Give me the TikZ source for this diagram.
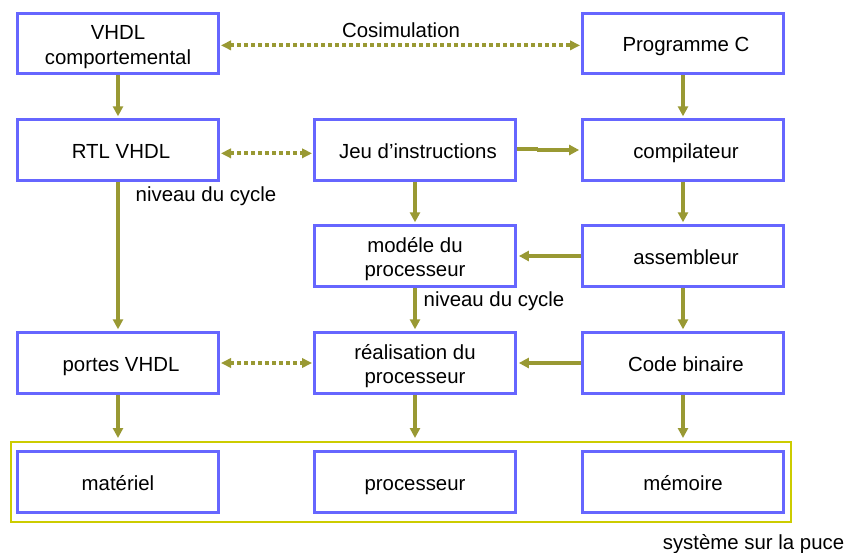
\documentclass[tikz,border=0pt]{standalone}
\usepackage{fontspec}
\setmainfont{Liberation Sans}
\usetikzlibrary{arrows.meta}
\definecolor{boxblue}{RGB}{102,102,255}
\definecolor{olive}{RGB}{153,153,51}
\definecolor{yel}{RGB}{204,204,0}
\newcommand{\nudgetext}{\hspace*{4.5pt}}
\tikzset{x=0.75pt,y=-0.75pt,
bx/.style={draw=boxblue,line width=2.25pt,fill=white,minimum width=150.75pt,minimum height=45.5pt,align=center,font=\fontsize{15.3}{18.4}\selectfont,inner sep=0pt,text height=13pt,text depth=0.5pt},
bxtwo/.style={bx,text height=31pt,text depth=0.2pt},
ar/.style={draw=olive,line width=2.9pt,-{Triangle[length=7.5pt,width=7.5pt]},shorten >=1.4pt},
plainline/.style={draw=olive,line width=2.9pt},
dar/.style={draw=olive,line width=2.9pt,dash pattern=on 3pt off 2.25pt,{Triangle[length=7.5pt,width=7pt]}-{Triangle[length=7.5pt,width=7pt]},shorten >=0.75pt,shorten <=0.75pt},
lb/.style={font=\fontsize{15.3}{18}\selectfont,inner sep=0pt,anchor=base}}
\begin{document}
\begin{tikzpicture}
\useasboundingbox (0,0) rectangle (846,553);
\fill[white] (0,0) rectangle (846,553);
\node[draw=yel,line width=1.6pt,minimum width=585pt,minimum height=60pt,inner sep=0pt] (chip) at (401,482) {};
\node[bxtwo] (a) at (118,43.5) {VHDL\\comportemental};
\node[bx] (c) at (683,43.5) {\nudgetext Programme C};
\node[bx] (d) at (118,150) {\nudgetext RTL VHDL};
\node[bx] (e) at (415,150) {\nudgetext Jeu d’instructions};
\node[bx] (f) at (683,150) {\nudgetext compilateur};
\node[bxtwo] (g) at (415,256) {modéle du\\processeur};
\node[bx] (h) at (683,256) {\nudgetext assembleur};
\node[bx] (i) at (118,363) {\nudgetext portes VHDL};
\node[bxtwo] (j) at (415,363) {réalisation du\\processeur};
\node[bx] (k) at (683,363) {\nudgetext Code binaire};
\node[bx] (l) at (118,482) {matériel};
\node[bx] (m) at (415,482) {processeur};
\node[bx] (n) at (683,482) {mémoire};
\coordinate (ej) at (537,150);
\draw[ar] (a) -- (d);
\draw[ar] (c) -- (f);
\draw[ar] (d) -- (i);
\draw[plainline] ([yshift=1pt]e.east) -- ++(21,0);
\draw[ar] (ej) -- (f.west);
\draw[ar] (e) -- (g);
\draw[ar] (f) -- (h);
\draw[ar] (h) -- (g);
\draw[ar] (g) -- (j);
\draw[ar] (h) -- (k);
\draw[ar] (k) -- (j);
\draw[ar,shorten >=2.2pt] (i.south) -- (i.south|-chip.north);
\draw[ar,shorten >=2.2pt] (j.south) -- (j.south|-chip.north);
\draw[ar,shorten >=2.2pt] (k.south) -- (k.south|-chip.north);
\draw[dar] ([yshift=-1.4pt]a.east) -- ([yshift=-1.4pt]c.west);
\draw[dar] ([yshift=-2.5pt]d.east) -- ([yshift=-2.5pt]e.west);
\draw[dar] (i) -- (j);
\node[lb] (t1) at (401,37.7) {Cosimulation};
\node[lb] (t2) at (206,201) {niveau du cycle};
\node[lb] (t3) at (494,306.7) {niveau du cycle};
\node[lb] (t4) at (753.5,549.5) {système sur la puce};
\end{tikzpicture}
\end{document}
